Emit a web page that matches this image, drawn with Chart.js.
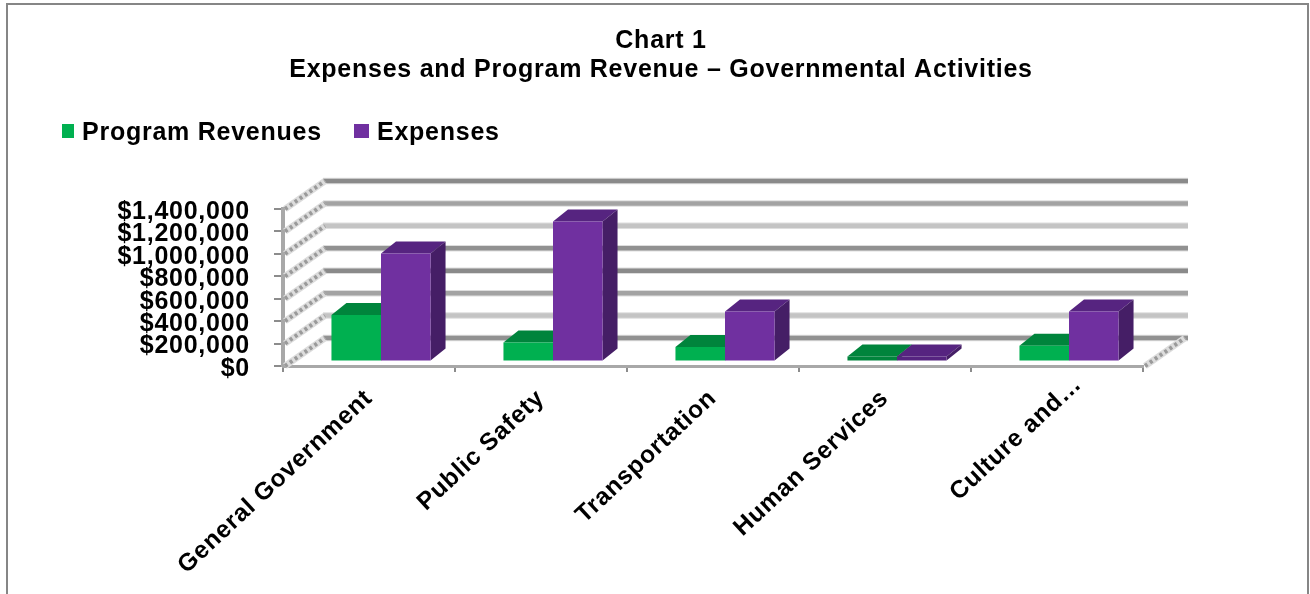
<!DOCTYPE html>
<html>
<head>
<meta charset="utf-8">
<style>
html,body{margin:0;padding:0;background:#fff;overflow:hidden}
#wrap{position:relative;width:1310px;height:594px}
</style>
<script src="https://cdn.jsdelivr.net/npm/chart.js@4"></script>
</head>
<body>
<div id="wrap"><canvas id="c" width="1310" height="594"></canvas></div>
<script>
const categories = ['General Government', 'Public Safety', 'Transportation', 'Human Services', 'Culture and…'];
const programRevenues = [415000, 170000, 130000, 45000, 140000];
const expenses = [963000, 1248000, 445000, 45000, 445000];
const titleLines = ['Chart 1', 'Expenses and Program Revenue – Governmental Activities'];
const gridShades = ['#919191', '#c4c4c4', '#a3a3a3', '#8a8a8a'];
const FONT = '"Liberation Sans", Arial, sans-serif';
const TRACKING = '0.75px';

// Oblique offsets that give the flat chart its 3-D box look.
const WALL = {dx: 40, dy: -28};
const BAR_SHIFT = {dx: 12, dy: -4.5};
const BAR_DEPTH = {dx: 15, dy: -12};
const SHALLOW_BAR = 60000; // bars this low show only their shaded faces
const TRUNCATED_LABEL_SHIFT = {dx: 21, dy: -14}; // the shortened last label sits further up its slope
const series = [
  {label: 'Program Revenues', data: programRevenues, front: '#00b050', top: '#00843c', side: '#006b31', key: {x: 62, w: 12, text: 82}},
  {label: 'Expenses', data: expenses, front: '#7030a0', top: '#562480', side: '#451e66', key: {x: 354, w: 15, text: 377}}
];

function poly(ctx, pts, fill) {
  ctx.beginPath();
  pts.forEach((p, i) => i ? ctx.lineTo(p[0], p[1]) : ctx.moveTo(p[0], p[1]));
  ctx.closePath();
  ctx.fillStyle = fill;
  ctx.fill();
}

function hatchedEdge(ctx, x, y) {
  ctx.save();
  ctx.lineWidth = 6.5;
  ctx.strokeStyle = '#dcdcdc';
  ctx.beginPath();
  ctx.moveTo(x, y);
  ctx.lineTo(x + WALL.dx, y + WALL.dy);
  ctx.stroke();
  ctx.lineWidth = 4;
  ctx.strokeStyle = '#9a9a9a';
  ctx.setLineDash([3, 3]);
  ctx.beginPath();
  ctx.moveTo(x, y);
  ctx.lineTo(x + WALL.dx, y + WALL.dy);
  ctx.stroke();
  ctx.restore();
}

const box3d = {
  id: 'box3d',
  beforeUpdate(chart) {
    chart.ctx.letterSpacing = TRACKING;
  },
  afterUpdate(chart) {
    const items = chart.scales.x.getLabelItems();
    const last = items[items.length - 1];
    last.options.translation[0] += TRUNCATED_LABEL_SHIFT.dx;
    last.options.translation[1] += TRUNCATED_LABEL_SHIFT.dy;
  },
  beforeDraw(chart) {
    const ctx = chart.ctx;
    ctx.letterSpacing = TRACKING;
    ctx.save();
    ctx.strokeStyle = '#868686';
    ctx.lineWidth = 2;
    ctx.strokeRect(7, 4, 1301, 640);
    ctx.restore();
    // Centre the title over the whole frame instead of the plot.
    chart.titleBlock.left = 0;
    chart.titleBlock.right = 1322;
  },
  beforeDatasetsDraw(chart) {
    const ctx = chart.ctx;
    const {x: xs, y: ys} = chart.scales;
    const left = xs.left, right = xs.right;

    ctx.save();
    ys.ticks.forEach((t, i) => {
      const py = ys.getPixelForValue(t.value);
      ctx.strokeStyle = '#dedede';
      ctx.lineWidth = 6.5;
      ctx.beginPath();
      ctx.moveTo(left + WALL.dx, py + WALL.dy);
      ctx.lineTo(right + WALL.dx + 5, py + WALL.dy);
      ctx.stroke();
      ctx.strokeStyle = gridShades[i % gridShades.length];
      ctx.lineWidth = 4.5;
      ctx.stroke();
      hatchedEdge(ctx, left + 2, py);
    });
    hatchedEdge(ctx, right + 2, ys.getPixelForValue(0));
    ctx.restore();

    // Everything in the datasets layer sits a little way into the box.
    ctx.save();
    ctx.translate(BAR_SHIFT.dx, BAR_SHIFT.dy);
    series.forEach((s, di) => {
      chart.getDatasetMeta(di).data.forEach(el => {
        const l = el.x - el.width / 2, r = el.x + el.width / 2;
        const d = BAR_DEPTH;
        poly(ctx, [[l, el.y], [r, el.y], [r + d.dx, el.y + d.dy], [l + d.dx, el.y + d.dy]], s.top);
        poly(ctx, [[r, el.y], [r + d.dx, el.y + d.dy], [r + d.dx, el.base + d.dy], [r, el.base]], s.side);
      });
    });
  },
  afterDatasetsDraw(chart) {
    chart.ctx.restore();
  },
  afterDraw(chart) {
    // Legend row: square swatch followed by a bold label.
    const ctx = chart.ctx;
    ctx.save();
    ctx.font = 'bold 25px ' + FONT;
    ctx.textBaseline = 'middle';
    ctx.textAlign = 'left';
    series.forEach(s => {
      ctx.fillStyle = s.front;
      ctx.fillRect(s.key.x, 124, s.key.w, 14);
      ctx.fillStyle = '#000';
      ctx.fillText(s.label, s.key.text, 133);
    });
    ctx.restore();
  }
};

new Chart(document.getElementById('c'), {
  type: 'bar',
  data: {
    labels: categories,
    datasets: series.map(s => ({
      label: s.label,
      data: s.data,
      backgroundColor: c => (c.raw < SHALLOW_BAR ? s.top : s.front),
      borderWidth: 0,
      categoryPercentage: 0.576,
      barPercentage: 1
    }))
  },
  plugins: [box3d],
  options: {
    responsive: false,
    animation: false,
    layout: {padding: {left: 0, right: 167, top: 0, bottom: 0}},
    plugins: {
      legend: {display: false},
      tooltip: {enabled: false},
      title: {
        display: true,
        text: titleLines,
        color: '#000',
        font: {family: FONT, size: 25, weight: 'bold', lineHeight: 1.16},
        padding: {top: 27, bottom: 124}
      }
    },
    scales: {
      x: {
        grid: {drawOnChartArea: false, drawTicks: true, tickLength: 6, color: '#8c8c8c', lineWidth: 2},
        border: {display: true, color: '#a8a8a8', width: 3},
        ticks: {
          color: '#000',
          font: {family: FONT, size: 24.5, weight: 'bold'},
          minRotation: 43, maxRotation: 43, autoSkip: false, padding: 12
        },
        afterFit(scale) { scale.height = 228; }
      },
      y: {
        min: 0, max: 1400000,
        grid: {drawOnChartArea: false, drawTicks: true, tickLength: 9, color: '#8c8c8c', lineWidth: 2},
        border: {display: true, color: '#a8a8a8', width: 4},
        ticks: {
          stepSize: 200000,
          autoSkip: false,
          color: '#000',
          padding: 24,
          labelOffset: 3,
          font: {family: FONT, size: 25, weight: 'bold'},
          callback: v => '$' + Number(v).toLocaleString('en-US')
        },
        afterFit(scale) { scale.width = 283; }
      }
    }
  }
});
</script>
</body>
</html>
